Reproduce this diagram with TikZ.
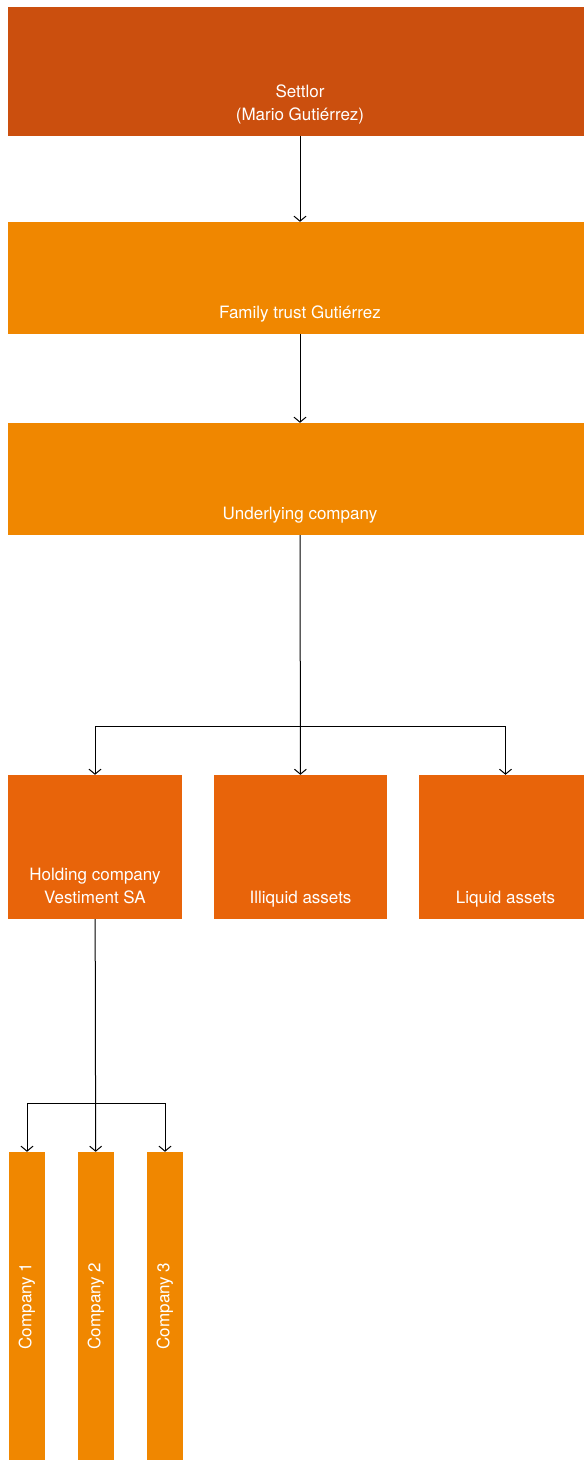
\documentclass[tikz,border=0pt]{standalone}
\usepackage{fontspec}
\setmainfont{TeX Gyre Heros}
\usetikzlibrary{arrows.meta}
\definecolor{settlorred}{HTML}{CB4F0E}
\definecolor{trustorange}{HTML}{F08700}
\definecolor{assetorange}{HTML}{E8640A}

\begin{document}
\begin{tikzpicture}[x=1pt, y=-1pt,
  box/.style={rectangle, inner sep=0pt, draw=none},
  lab/.style={anchor=south, yshift=9pt, inner sep=0pt, text=white, align=center, font=\fontsize{17}{23}\selectfont},
  vlab/.style={rotate=90, inner sep=0pt, text=white, font=\fontsize{17}{23}\selectfont},
  arr/.style={draw=black, line width=1pt, -{Straight Barb[length=5pt, width=12pt]}}]
\useasboundingbox (0,0) rectangle (584,1460);
\clip (0,0) rectangle (584,1460);
% top of the chain
\node[box, fill=settlorred, minimum width=584pt, minimum height=129pt, label={[lab]south:Settlor\\(Mario Gutiérrez)\strut}] (settlor) at (300,71.5) {};
\node[box, fill=trustorange, minimum width=584pt, minimum height=112pt, label={[lab]south:Family trust Gutiérrez\strut}] (trust) at (300,278) {};
\node[box, fill=trustorange, minimum width=584pt, minimum height=112pt, label={[lab]south:Underlying company\strut}] (under) at (300,479) {};
% assets
\node[box, fill=assetorange, minimum width=174pt, minimum height=144pt, label={[lab]south:Holding company\\Vestiment SA\strut}] (hold) at (95,847) {};
\node[box, fill=assetorange, minimum width=173pt, minimum height=144pt, label={[lab]south:Illiquid assets\strut}] (illiq) at (300.5,847) {};
\node[box, fill=assetorange, minimum width=173pt, minimum height=144pt, label={[lab]south:Liquid assets\strut}] (liq) at (505.5,847) {};
% companies
\node[box, fill=trustorange, minimum width=36pt, minimum height=308pt, label={[vlab]center:Company 1}] (c1) at (27,1306) {};
\node[box, fill=trustorange, minimum width=36pt, minimum height=308pt, label={[vlab]center:Company 2}] (c2) at (96,1306) {};
\node[box, fill=trustorange, minimum width=36pt, minimum height=308pt, label={[vlab]center:Company 3}] (c3) at (165,1306) {};
\coordinate (split1) at (300,726);
\coordinate (split2) at (96,1103);
\draw[arr] (settlor) -- (trust);
\draw[arr] (trust) -- (under);
\draw[arr] (under) -- (illiq);
\draw[arr] (split1) -| (hold);
\draw[arr] (split1) -| (liq);
\draw[arr] (hold) -- (c2);
\draw[arr] (split2) -| (c1);
\draw[arr] (split2) -| (c3);
\end{tikzpicture}
\end{document}
